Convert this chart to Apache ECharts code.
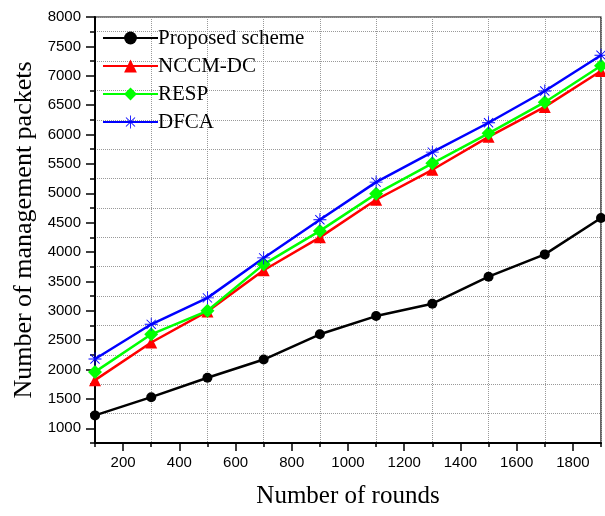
<!DOCTYPE html>
<html>
<head>
<meta charset="utf-8">
<script src="https://cdn.jsdelivr.net/npm/echarts@6/dist/echarts.min.js"></script>
<style>
html,body{margin:0;padding:0;background:#fff;}
#chart{width:605px;height:516px;}
</style>
</head>
<body>
<div id="chart"></div>
<script>
var rounds = [100, 300, 500, 700, 900, 1100, 1300, 1500, 1700, 1900];
var proposed = [1220, 1530, 1860, 2170, 2600, 2910, 3120, 3580, 3960, 4580];
var nccmdc = [1820, 2460, 2990, 3690, 4250, 4890, 5400, 5960, 6470, 7080];
var resp = [1960, 2600, 3000, 3790, 4360, 4990, 5510, 6020, 6550, 7170];
var dfca = [2180, 2770, 3220, 3900, 4550, 5190, 5700, 6200, 6740, 7350];
var seriesNames = ['Proposed scheme', 'NCCM-DC', 'RESP', 'DFCA'];
var xTickLabels = [200, 400, 600, 800, 1000, 1200, 1400, 1600, 1800];
var yTickLabels = [1000, 1500, 2000, 2500, 3000, 3500, 4000, 4500, 5000, 5500, 6000, 6500, 7000, 7500, 8000];

function pairs(xs, ys) { return xs.map(function (x, i) { return [x, ys[i]]; }); }

var starPath = 'path://M11.2 0H12.8V24H11.2Z M0 11.2H24V12.8H0Z M4.07 2.93L21.07 19.93L19.93 21.07L2.93 4.07Z M21.07 4.07L4.07 21.07L2.93 19.93L19.93 2.93Z';

var chart = echarts.init(document.getElementById('chart'), null, {renderer: 'canvas'});
var sansFam = 'Liberation Sans, Arial, sans-serif';
var serifFam = 'Liberation Serif, Times New Roman, serif';

function mkSeries(name, data, color, symbol, size) {
  return {
    name: name, type: 'line', data: pairs(rounds, data),
    xAxisIndex: 0, yAxisIndex: 0,
    symbol: symbol, symbolSize: size, showSymbol: true,
    lineStyle: {color: color, width: 2.5},
    itemStyle: {color: color},
    animation: false
  };
}
function plain(v) { return String(v); }

chart.setOption({
  animation: false,
  backgroundColor: '#fff',
  grid: {left: 95, right: 4, top: 17, bottom: 73, show: true, borderColor: '#000', borderWidth: 1.2, backgroundColor: 'transparent'},
  legend: {
    data: seriesNames,
    orient: 'vertical', left: 97, top: 22,
    itemWidth: 55, itemHeight: 16, itemGap: 6,
    textStyle: {fontFamily: serifFam, fontSize: 21, color: '#000', lineHeight: 22, padding: [0, 0, 0, -5]}
  },
  xAxis: [
    {
      type: 'value', min: 100, max: 1900, position: 'bottom',
      name: 'Number of rounds', nameLocation: 'middle', nameGap: 41,
      nameTextStyle: {fontFamily: serifFam, fontSize: 25, color: '#000'},
      axisLine: {show: true, onZero: false, lineStyle: {color: '#000', width: 2}},
      axisTick: {show: true, inside: false, length: 8, customValues: xTickLabels, lineStyle: {color: '#000', width: 1.5}},
      axisLabel: {show: true, margin: 12, customValues: xTickLabels, formatter: plain, fontFamily: sansFam, fontSize: 15, color: '#000'},
      splitLine: {show: false}
    },
    {
      type: 'value', min: 100, max: 1900, interval: 200, position: 'bottom',
      axisLine: {show: false, onZero: false},
      axisTick: {show: true, inside: false, length: 4, lineStyle: {color: '#000', width: 1.5}},
      axisLabel: {show: false},
      splitLine: {show: true, lineStyle: {color: '#999', width: 1, type: [1, 1]}}
    }
  ],
  yAxis: [
    {
      type: 'value', min: 750, max: 8000, position: 'left',
      name: 'Number of management packets', nameLocation: 'middle', nameGap: 58,
      nameTextStyle: {fontFamily: serifFam, fontSize: 26, color: '#000'},
      axisLine: {show: true, onZero: false, lineStyle: {color: '#000', width: 2}},
      axisTick: {show: true, inside: false, length: 9, customValues: yTickLabels, lineStyle: {color: '#000', width: 1.5}},
      axisLabel: {show: true, margin: 14, customValues: yTickLabels, formatter: plain, fontFamily: sansFam, fontSize: 15, color: '#000'},
      splitLine: {show: false}
    },
    {
      type: 'value', min: 750, max: 8000, interval: 500, position: 'left',
      axisLine: {show: false, onZero: false},
      axisTick: {show: true, inside: false, length: 5, lineStyle: {color: '#000', width: 1.5}},
      axisLabel: {show: false},
      splitLine: {show: true, lineStyle: {color: '#999', width: 1, type: [1, 1]}}
    }
  ],
  series: [
    mkSeries(seriesNames[0], proposed, '#000000', 'circle', 10),
    mkSeries(seriesNames[1], nccmdc, '#ff0000', 'triangle', 12),
    mkSeries(seriesNames[2], resp, '#00ff00', 'diamond', 14),
    mkSeries(seriesNames[3], dfca, '#0000ff', starPath, 13)
  ]
});
</script>
</body>
</html>
